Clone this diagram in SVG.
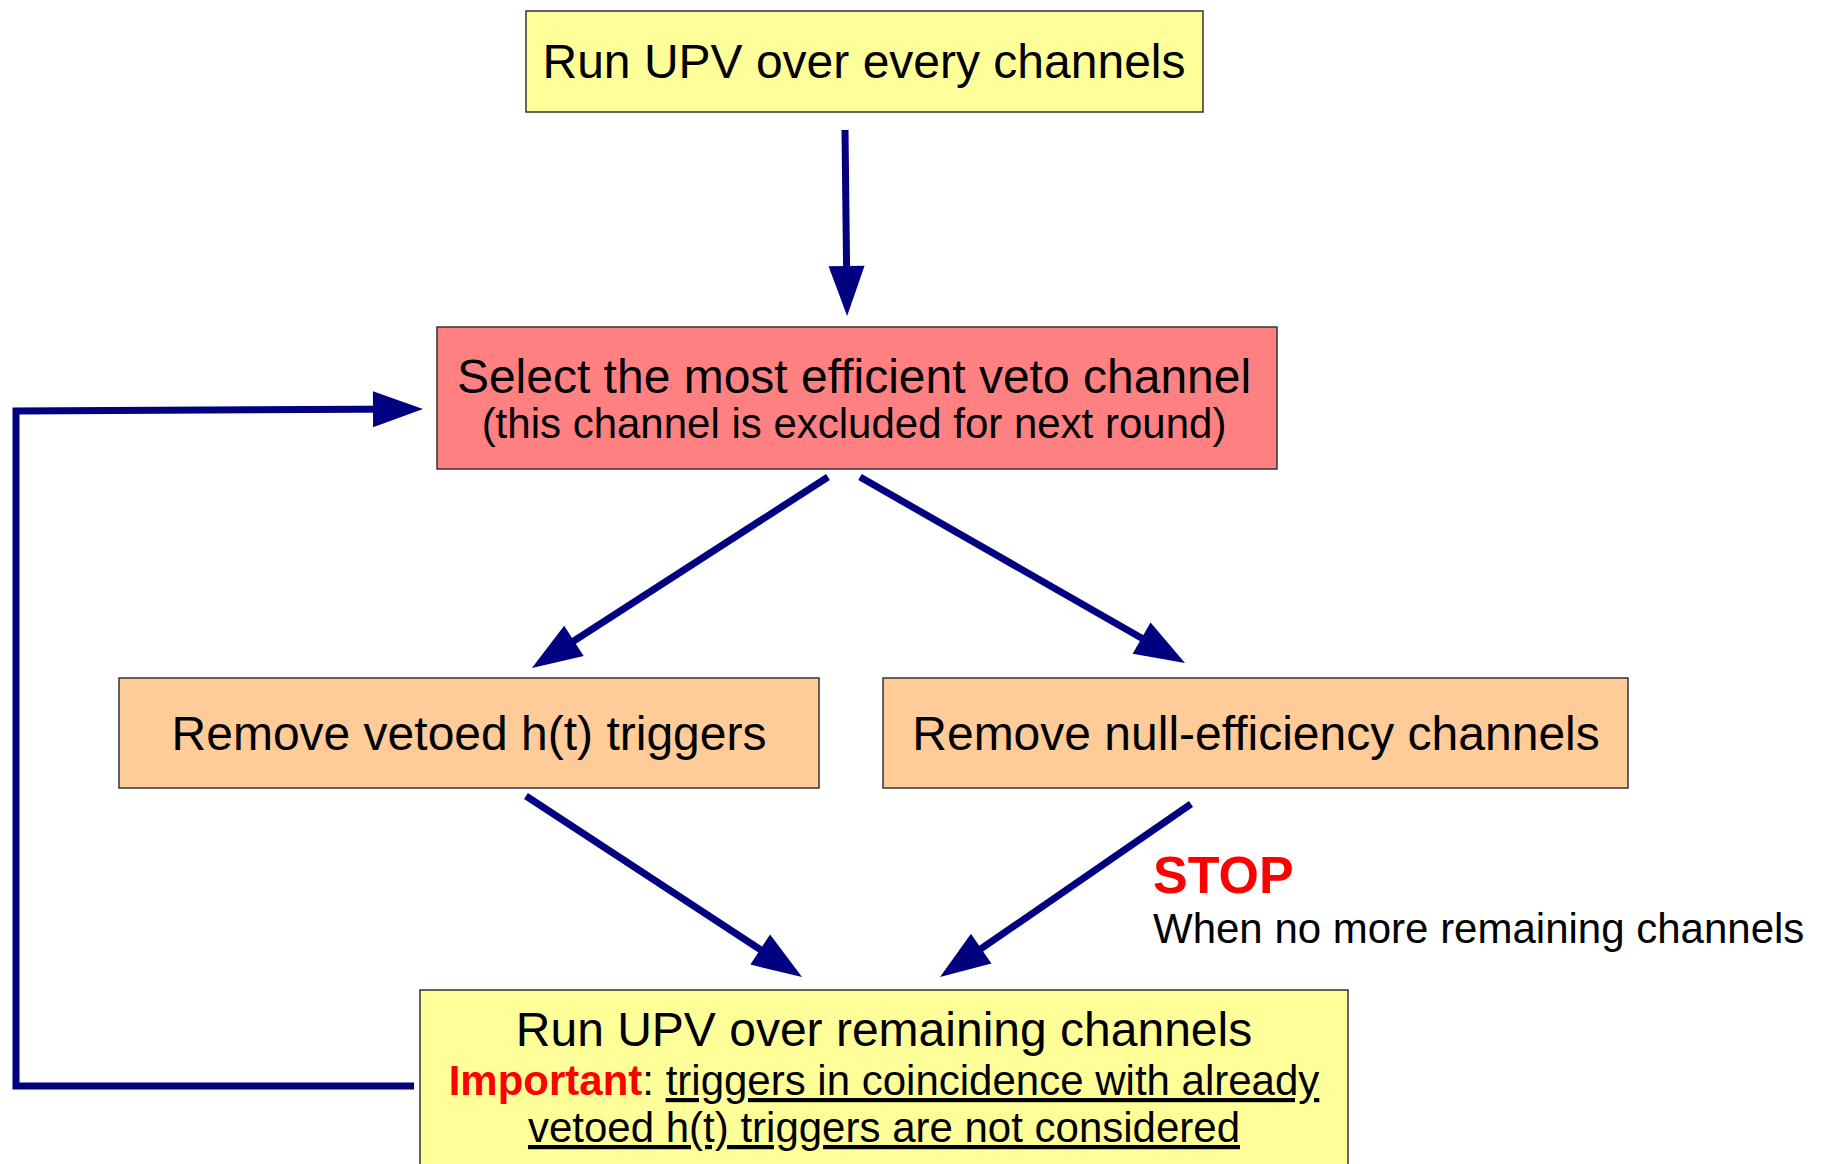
<svg xmlns="http://www.w3.org/2000/svg" width="1832" height="1164" viewBox="0 0 1832 1164">
<style>
.box{stroke:#333333;stroke-width:1.5}
.t{font-family:"Liberation Sans",Arial,sans-serif;fill:#000000;text-anchor:middle}
.big{font-size:48px}
.small{font-size:42px}
.conn{fill:none;stroke:#000080;stroke-width:7}
.red{fill:#FF0000;font-weight:bold}
.ul{text-decoration:underline}
</style>
<defs>
<marker id="ah" markerUnits="userSpaceOnUse" markerWidth="50" markerHeight="36" refX="38" refY="18" orient="auto" overflow="visible">
<path d="M0,0 L50,18 L0,36 Z" fill="#000080"/>
</marker>
</defs>
<rect width="1832" height="1164" fill="#FFFFFF"/>
<g id="connectors">
<path class="conn" d="M845,130 L847,304" marker-end="url(#ah)"/>
<path class="conn" d="M414,1086 L16,1086 L16,411 L411,409" marker-end="url(#ah)"/>
<path class="conn" d="M828,477 L542,661.5" marker-end="url(#ah)"/>
<path class="conn" d="M860,477 L1174.6,657" marker-end="url(#ah)"/>
<path class="conn" d="M526,796 L792,970.4" marker-end="url(#ah)"/>
<path class="conn" d="M1191,804 L949.9,970.2" marker-end="url(#ah)"/>
</g>
<g id="node-run-all">
<rect class="box" x="526" y="11" width="677" height="101" fill="#FFFF99"/>
<text class="t big" x="864" y="78">Run UPV over every channels</text>
</g>
<g id="node-select">
<rect class="box" x="437" y="327" width="840" height="142" fill="#FF8080"/>
<text class="t big" x="854" y="393">Select the most efficient veto channel</text>
<text class="t small" x="854" y="438">(this channel is excluded for next round)</text>
</g>
<g id="node-remove-triggers">
<rect class="box" x="119" y="678" width="700" height="110" fill="#FFCC99"/>
<text class="t big" x="469" y="750">Remove vetoed h(t) triggers</text>
</g>
<g id="node-remove-null">
<rect class="box" x="883" y="678" width="745" height="110" fill="#FFCC99"/>
<text class="t big" x="1256" y="750">Remove null-efficiency channels</text>
</g>
<g id="label-stop">
<text class="t red" x="1153" y="893" style="font-size:52px;text-anchor:start">STOP</text>
<text class="t small" x="1153" y="943" style="text-anchor:start">When no more remaining channels</text>
</g>
<g id="node-run-remaining">
<rect class="box" x="420" y="990" width="928" height="190" fill="#FFFF99"/>
<text class="t big" x="884" y="1046">Run UPV over remaining channels</text>
<text class="t small" x="884" y="1095"><tspan class="red">Important</tspan>: <tspan class="ul">triggers in coincidence with already</tspan></text>
<text class="t small ul" x="884" y="1142">vetoed h(t) triggers are not considered</text>
</g>
</svg>
